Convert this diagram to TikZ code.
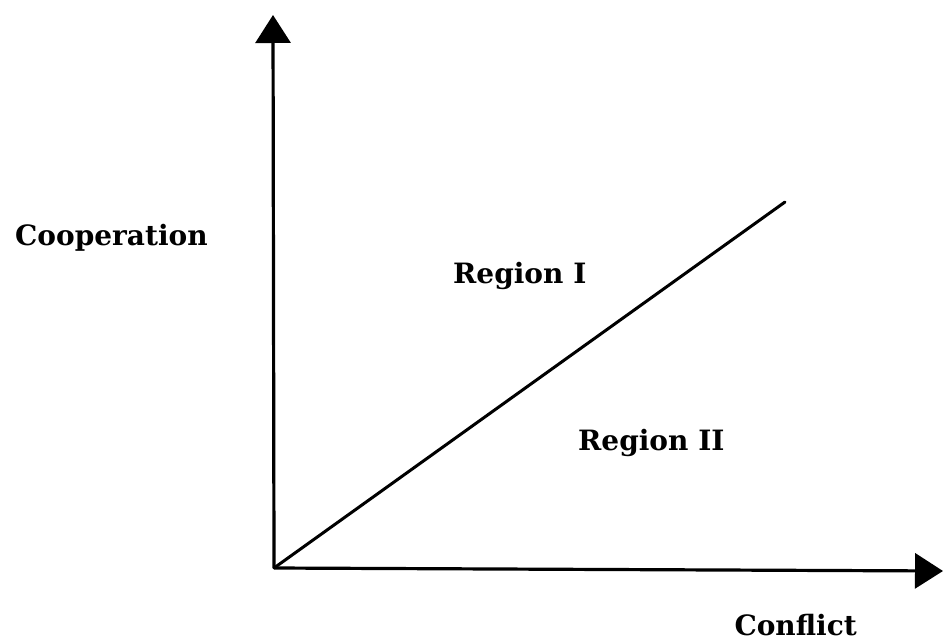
\documentclass[tikz,border=0pt]{standalone}
\usepackage{fontspec}
\setmainfont{DejaVu Serif}
\usetikzlibrary{arrows.meta}
\begin{document}
\begin{tikzpicture}[x=1pt,y=-1pt,
  axis/.style={line width=3.2pt,-{Triangle[length=28pt,width=35pt]}},
  diag/.style={line width=3pt},
  lbl/.style={font=\bfseries\fontsize{28}{32}\selectfont,inner sep=0pt,anchor=base west}]
\useasboundingbox (0,0) rectangle (945,640);
\coordinate (O) at (274,568);
\coordinate (Y) at (273,15);
\coordinate (X) at (943,571);
\coordinate (D) at (785,202);
\draw[axis] (O) -- (Y);
\draw[axis] (O) -- (X);
\draw[diag,line cap=round] (O) -- (D);
\node[lbl] (coop) at (15,245) {Cooperation};
\node[lbl] (r1) at (453,283) {Region I};
\node[lbl] (r2) at (578,450) {Region II};
\node[lbl,anchor=base east] (conf) at (857,635) {Conflict};
\end{tikzpicture}
\end{document}
